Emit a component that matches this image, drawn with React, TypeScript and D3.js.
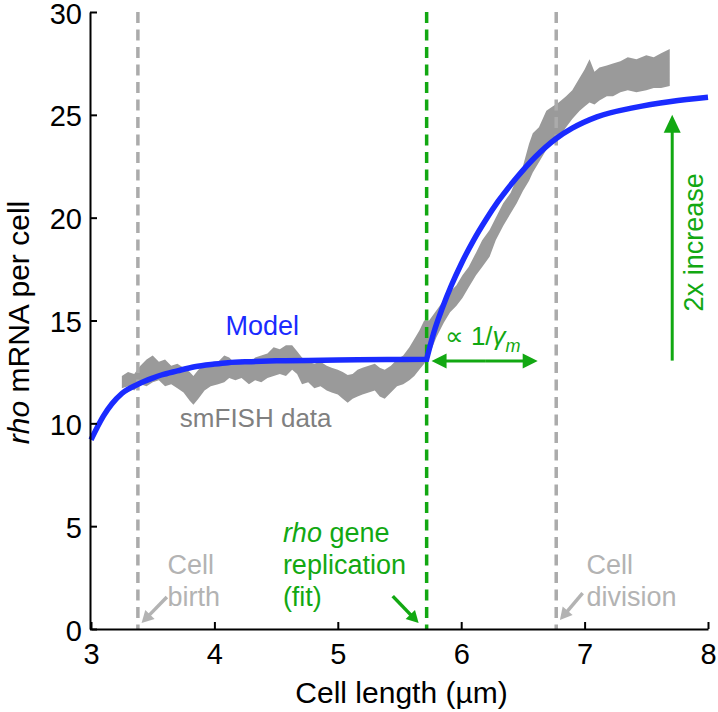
import React, { useEffect, useRef } from "react";
import * as d3 from "d3";

// smFISH data band (cell length in µm, lower / upper mRNA per cell)
const bandX = [3.25, 3.3, 3.35, 3.4, 3.45, 3.5, 3.55, 3.6, 3.65, 3.7, 3.75, 3.8, 3.83, 3.87, 3.92, 3.97, 4.03, 4.08, 4.12, 4.17, 4.22, 4.28, 4.33, 4.38, 4.43, 4.48, 4.53, 4.58, 4.63, 4.67, 4.71, 4.76, 4.81, 4.86, 4.91, 4.95, 5.0, 5.04, 5.08, 5.12, 5.16, 5.2, 5.25, 5.3, 5.34, 5.38, 5.43, 5.48, 5.53, 5.58, 5.62, 5.66, 5.7, 5.74, 5.8, 5.86, 5.91, 5.96, 6.01, 6.06, 6.12, 6.17, 6.23, 6.28, 6.34, 6.4, 6.45, 6.5, 6.55, 6.58, 6.63, 6.69, 6.74, 6.79, 6.85, 6.9, 6.96, 7.0, 7.04, 7.08, 7.12, 7.18, 7.23, 7.29, 7.35, 7.42, 7.5, 7.56, 7.62, 7.69];
const bandLow = [11.7, 11.8, 11.6, 11.9, 11.8, 12.0, 12.1, 11.8, 11.9, 11.7, 11.5, 11.1, 10.9, 11.2, 11.6, 11.8, 11.9, 12.0, 12.2, 12.1, 12.2, 11.9, 12.1, 12.0, 12.2, 12.3, 12.4, 12.3, 12.6, 12.4, 11.9, 12.0, 11.7, 11.8, 11.6, 11.5, 11.4, 11.2, 11.0, 11.2, 11.3, 11.4, 11.5, 11.6, 11.3, 11.2, 11.5, 11.8, 11.9, 12.1, 12.3, 12.6, 12.9, 13.3, 14.2, 14.9, 15.4, 15.7, 16.1, 16.6, 17.2, 17.6, 18.1, 18.9, 19.6, 20.2, 20.7, 21.3, 21.8, 22.2, 22.7, 23.3, 23.6, 23.9, 24.4, 24.8, 25.2, 25.4, 25.6, 25.5, 25.7, 25.9, 25.9, 26.1, 26.2, 26.1, 26.2, 26.3, 26.3, 26.4];
const bandHigh = [12.3, 12.5, 12.4, 12.8, 13.1, 13.3, 13.0, 13.1, 12.8, 12.9, 12.7, 12.5, 12.3, 12.6, 12.9, 12.8, 13.0, 13.3, 13.2, 12.9, 13.1, 12.9, 13.2, 13.3, 13.4, 13.7, 13.6, 13.8, 13.8, 13.5, 13.2, 13.0, 12.9, 13.0, 12.8, 12.7, 12.6, 12.5, 12.35, 12.4, 12.6, 12.7, 12.8, 12.9, 12.7, 12.6, 12.8, 13.1, 13.3, 13.7, 14.1, 14.5, 15.0, 15.0, 15.5, 16.0, 16.4, 16.7, 17.2, 17.6, 18.3, 18.9, 19.4, 20.0, 20.7, 21.2, 21.9, 22.5, 23.6, 24.1, 24.4, 25.2, 25.4, 25.6, 25.9, 26.2, 26.8, 27.2, 27.7, 27.1, 27.3, 27.4, 27.5, 27.6, 27.8, 27.7, 27.9, 27.8, 28.0, 28.2];

// model fit, before and after gene replication
const modelPreX = [3.0, 3.05, 3.1, 3.17, 3.25, 3.38, 3.5, 3.57, 3.7, 3.84, 4.0, 4.11, 4.3, 4.5, 5.0, 5.4, 5.72];
const modelPreY = [9.2, 9.8, 10.35, 10.95, 11.45, 11.9, 12.2, 12.35, 12.55, 12.75, 12.88, 12.95, 13.0, 13.04, 13.08, 13.1, 13.12];
const modelPostX = [5.72, 5.78, 5.85, 5.92, 6.0, 6.1, 6.2, 6.3, 6.45, 6.6, 6.77, 6.9, 7.1, 7.4, 7.7, 8.0];
const modelPostY = [13.12, 14.45, 15.65, 16.7, 17.75, 18.9, 19.9, 20.8, 21.95, 22.95, 23.85, 24.35, 24.9, 25.35, 25.65, 25.85];

// event markers
const birthX = 3.38;
const replicationX = 5.72;
const divisionX = 6.77;

const xTicks = [3, 4, 5, 6, 7, 8];
const yTicks = [0, 5, 10, 15, 20, 25, 30];

const W = 718;
const H = 712;
const FONT = "'Liberation Sans', Arial, Helvetica, sans-serif";
const GREEN = "#12a812";
const LGREY = "#b3b3b3";

export default function App() {
  const ref = useRef<SVGSVGElement | null>(null);

  useEffect(() => {
    const node = ref.current;
    if (!node) return;
    const svg = d3.select(node);
    svg.selectAll("*").remove();

    const x = d3.scaleLinear().domain([3, 8]).range([91, 708]);
    const y = d3.scaleLinear().domain([0, 30]).range([629, 12]);

    const g = svg.append("g").attr("font-family", FONT);

    // data band
    const band = bandX.map((v, i) => ({ x: v, lo: bandLow[i], hi: bandHigh[i] }));
    g.append("path")
      .datum(band)
      .attr("fill", "#9a9a9a")
      .attr("d", d3.area<any>().x(d => x(d.x)).y0(d => y(d.lo)).y1(d => y(d.hi)));

    // dashed event lines
    const vline = (xv: number, color: string) =>
      g.append("line")
        .attr("x1", x(xv)).attr("x2", x(xv))
        .attr("y1", y(30)).attr("y2", y(0))
        .attr("stroke", color)
        .attr("stroke-width", 3.5)
        .attr("stroke-dasharray", "11,6.5");
    vline(birthX, "#ababab");
    vline(divisionX, "#ababab");
    vline(replicationX, GREEN);

    // model
    const line = d3.line<number>().curve(d3.curveMonotoneX);
    const pre = line.x(d => x(d)).y((d, i) => y(modelPreY[i]))(modelPreX) || "";
    const post = line.x(d => x(d)).y((d, i) => y(modelPostY[i]))(modelPostX) || "";
    g.append("path")
      .attr("d", pre + post.replace(/^M/, "L"))
      .attr("fill", "none")
      .attr("stroke", "#1a2bff")
      .attr("stroke-width", 5.5)
      .attr("stroke-linejoin", "miter");

    // axes
    const ax = g.append("g").attr("transform", `translate(0,${y(0)})`)
      .call(d3.axisBottom(x).tickValues(xTicks).tickFormat(d3.format("d")).tickSize(-7).tickPadding(14).tickSizeOuter(0));
    ax.select(".domain").attr("stroke-width", 2);
    ax.selectAll(".tick line").attr("stroke-width", 2);
    ax.selectAll("text").attr("font-size", 29).attr("font-family", FONT).attr("fill", "#000");

    const ay = g.append("g").attr("transform", `translate(${x(3) - 1},0)`)
      .call(d3.axisLeft(y).tickValues(yTicks).tickSize(-7).tickPadding(8).tickSizeOuter(0));
    ay.select(".domain").attr("stroke-width", 2);
    ay.selectAll(".tick line").attr("stroke-width", 2);
    ay.selectAll("text").attr("font-size", 29).attr("font-family", FONT).attr("fill", "#000").attr("dy", "0.38em");

    // axis titles
    g.append("text")
      .attr("x", (x(3) + x(8)) / 2 + 2).attr("y", 703)
      .attr("text-anchor", "middle").attr("font-size", 30)
      .text("Cell length (µm)");

    const yt = g.append("text")
      .attr("transform", `translate(29,${(y(0) + y(30)) / 2 + 2}) rotate(-90)`)
      .attr("text-anchor", "middle").attr("font-size", 30);
    yt.append("tspan").attr("font-style", "italic").text("rho");
    yt.append("tspan").text(" mRNA per cell");

    // arrows
    const arrow = (x1: number, y1: number, x2: number, y2: number, color: string, w: number, hl: number, hw: number) => {
      const dx = x2 - x1, dy = y2 - y1;
      const len = Math.hypot(dx, dy);
      const ux = dx / len, uy = dy / len;
      const bx = x2 - ux * hl, by = y2 - uy * hl;
      g.append("line")
        .attr("x1", x1).attr("y1", y1).attr("x2", bx + ux * 1).attr("y2", by + uy * 1)
        .attr("stroke", color).attr("stroke-width", w);
      g.append("polygon")
        .attr("points", `${x2},${y2} ${bx - uy * hw / 2},${by + ux * hw / 2} ${bx + uy * hw / 2},${by - ux * hw / 2}`)
        .attr("fill", color);
    };

    // 1/gamma double arrow
    const ya = y(13.03);
    arrow(x(6.2), ya, x(5.76), ya, GREEN, 3, 15, 15);
    arrow(x(6.2), ya, x(6.62), ya, GREEN, 3, 15, 15);
    // 2x increase
    arrow(x(7.71), y(13.05), x(7.71), y(25.0), GREEN, 3, 18, 17);
    // event pointers
    arrow(x(3.615), y(1.56), x(3.41), y(0.29), LGREY, 3.5, 12, 13);
    arrow(x(5.445), y(1.6), x(5.655), y(0.29), GREEN, 3.5, 12, 13);
    arrow(x(6.984), y(1.75), x(6.8), y(0.44), LGREY, 3.5, 12, 13);

    // labels
    g.append("text").attr("x", x(4.09)).attr("y", y(14.3))
      .attr("font-size", 27).attr("fill", "#1a2bff").text("Model");
    g.append("text").attr("x", x(3.72)).attr("y", y(9.82))
      .attr("font-size", 26).attr("fill", "#808080").text("smFISH data");

    const gam = g.append("text").attr("x", x(5.866)).attr("y", y(13.8))
      .attr("font-size", 26).attr("fill", GREEN);
    gam.append("tspan").text("∝ 1/");
    gam.append("tspan").attr("font-style", "italic").text("γ");
    gam.append("tspan").attr("font-style", "italic").attr("font-size", 18).attr("dy", 7).text("m");

    g.append("text")
      .attr("transform", `translate(703,${y(18.8)}) rotate(-90)`)
      .attr("text-anchor", "middle").attr("font-size", 27).attr("fill", GREEN)
      .text("2x increase");

    const multi = (xv: number, lines: string[], color: string, italicFirst = false) => {
      lines.forEach((s, i) => {
        const t = g.append("text").attr("x", x(xv)).attr("y", 573 - (lines.length - 2) * 32 + i * 32 + 1)
          .attr("font-size", 27).attr("fill", color);
        if (italicFirst && i === 0) {
          const [a, ...rest] = s.split(" ");
          t.append("tspan").attr("font-style", "italic").text(a);
          t.append("tspan").text(" " + rest.join(" "));
        } else t.text(s);
      });
    };
    multi(3.62, ["Cell", "birth"], LGREY);
    multi(4.555, ["rho gene", "replication", "(fit)"], GREEN, true);
    multi(7.016, ["Cell", "division"], LGREY);
  }, []);

  return (
    <svg
      ref={ref}
      width={W}
      height={H}
      viewBox={`0 0 ${W} ${H}`}
      style={{ position: "absolute", left: 0, top: 0, background: "#fff" }}
    />
  );
}
